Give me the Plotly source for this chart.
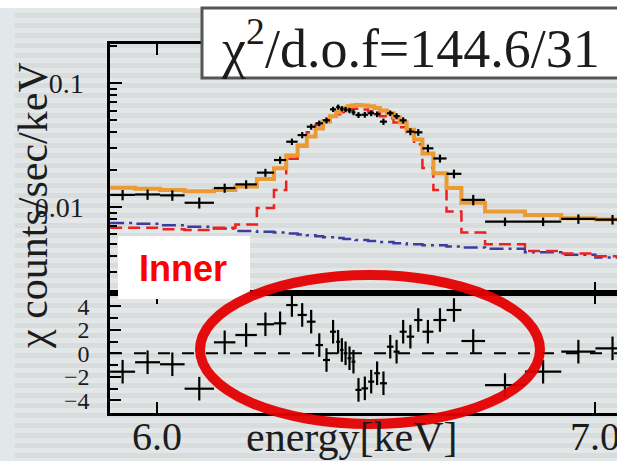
import plotly.graph_objects as go

# ---------------- data ----------------
bin_edges = [5.893, 5.950, 6.007, 6.063, 6.130, 6.179, 6.228, 6.267, 6.295, 6.321,
             6.342, 6.362, 6.379, 6.395, 6.409, 6.418, 6.426, 6.435, 6.444, 6.453,
             6.467, 6.482, 6.496, 6.509, 6.525, 6.540, 6.554, 6.570, 6.587, 6.606,
             6.631, 6.661, 6.695, 6.749, 6.840, 6.923, 7.001, 7.079]

data_rate = [0.0125, 0.0126, 0.0124, 0.0108, 0.0142, 0.0152, 0.0189, 0.0239, 0.0336, 0.0380,
             0.0444, 0.0473, 0.0500, 0.0613, 0.0640, 0.0620, 0.0610, 0.0600, 0.0580, 0.0552,
             0.0555, 0.0570, 0.0560, 0.0488, 0.0570, 0.0540, 0.0500, 0.0405, 0.0400, 0.0297,
             0.0246, 0.0185, 0.0114, 0.0076, 0.0076, 0.0080, 0.0079]

data_err = [0.0012, 0.0012, 0.0012, 0.0011, 0.0012, 0.0012, 0.0014, 0.0016, 0.0020, 0.0022,
            0.0024, 0.0025, 0.0028, 0.0030, 0.0030, 0.0030, 0.0030, 0.0030, 0.0030, 0.0030,
            0.0030, 0.0030, 0.0030, 0.0029, 0.0030, 0.0030, 0.0029, 0.0026, 0.0025, 0.0021,
            0.0018, 0.0015, 0.0011, 0.0006, 0.0006, 0.0007, 0.0007]

model_total = [0.0143, 0.0140, 0.0137, 0.0134, 0.0137, 0.0146, 0.0168, 0.0205, 0.0260, 0.0310,
               0.0370, 0.0430, 0.0490, 0.0540, 0.0580, 0.0610, 0.0630, 0.0650, 0.0660, 0.0665,
               0.0660, 0.0650, 0.0630, 0.0600, 0.0570, 0.0530, 0.0480, 0.0420, 0.0350, 0.0270,
               0.0187, 0.0142, 0.0108, 0.0092, 0.0086, 0.0081, 0.0079]

model_line = [0.0068, 0.0068, 0.0066, 0.0065, 0.0068, 0.0072, 0.0098, 0.0137, 0.0245, 0.0316,
              0.0400, 0.0460, 0.0500, 0.0540, 0.0560, 0.0580, 0.0600, 0.0610, 0.0620, 0.0620,
              0.0610, 0.0590, 0.0570, 0.0540, 0.0520, 0.0480, 0.0440, 0.0400, 0.0320, 0.0206,
              0.0137, 0.0092, 0.0062, 0.0050, 0.0044, 0.0042, 0.0040]

model_cont = [0.0074, 0.0073, 0.0071, 0.0069, 0.0067, 0.0064, 0.0063, 0.0062, 0.0061, 0.0060,
              0.0059, 0.0058, 0.0057, 0.0057, 0.0056, 0.0056, 0.0055, 0.0055, 0.0055, 0.0054,
              0.0054, 0.0053, 0.0053, 0.0052, 0.0052, 0.0051, 0.0051, 0.0050, 0.0050, 0.0049,
              0.0049, 0.0048, 0.0047, 0.0046, 0.0043, 0.0041, 0.0039]

residual = [-1.56, -0.76, -0.93, -3.00, 0.93, 1.55, 2.46, 2.54, 4.09, 3.25,
            2.68, 0.70, -0.57, 1.83, 0.98, 0.28, 0.00, -0.42, -0.71, -3.10,
            -2.97, -2.40, -1.69, -2.54, 0.56, 0.14, 1.83, 1.41, 2.82, 1.83,
            2.82, 3.67, 1.04, -2.69, -1.56, 0.14, 0.42]

x_tick_vals = [6.0, 7.0]
x_tick_text = ["6.0", "7.0"]
y_tick_vals = [0.01, 0.1]
y_tick_text = ["0.01", "0.1"]
y_minor_vals = [0.003, 0.004, 0.005, 0.006, 0.007, 0.008, 0.009,
                0.02, 0.03, 0.04, 0.05, 0.06, 0.07, 0.08, 0.09, 0.2]
r_tick_vals = [-4, -2, 0, 2, 4]
r_tick_text = ["\u22124", "\u22122", "0", "2", "4"]
r_minor_vals = [-5, -3, -1, 1, 3, 5]

title_text = "\u03c7<sup>2</sup>/d.o.f=144.6/31"
ylabel_text = "\u03c7 counts/sec/keV"
xlabel_text = "energy[keV]"
tag_text = "Inner"

# ---------------- geometry helpers ----------------
W, H = 617, 461
L, R, T, B = 110, 0, 44, 48
PW, PH = W - L - R, H - T - B


def px_x(p):
    return (p - L) / PW


def px_y(p):
    return (H - B - p) / PH


split = px_y(293)

centers = [(a + b) / 2 for a, b in zip(bin_edges[:-1], bin_edges[1:])]
half_w = [(b - a) / 2 for a, b in zip(bin_edges[:-1], bin_edges[1:])]

SERIF = "Liberation Serif"
INK = "#1c1c1c"

fig = go.Figure()

# model step curves (upper panel)
fig.add_trace(go.Scatter(x=bin_edges, y=model_cont + model_cont[-1:], mode="lines",
                         line=dict(shape="hv", color="#3c3ca0", width=2.5, dash="14px,5px,3px,5px"),
                         xaxis="x2", yaxis="y2", hoverinfo="skip"))
fig.add_trace(go.Scatter(x=bin_edges, y=model_line + model_line[-1:], mode="lines",
                         line=dict(shape="hv", color="#ee2020", width=2.5, dash="12px,6px"),
                         xaxis="x2", yaxis="y2", hoverinfo="skip"))
fig.add_trace(go.Scatter(x=bin_edges, y=model_total + model_total[-1:], mode="lines",
                         line=dict(shape="hv", color="#ec9a34", width=4),
                         xaxis="x2", yaxis="y2", hoverinfo="skip"))
# data crosses
fig.add_trace(go.Scatter(x=centers, y=data_rate, mode="markers",
                         marker=dict(size=1, color="black"),
                         error_x=dict(type="data", array=half_w, color="black", thickness=2.2, width=0),
                         error_y=dict(type="data", array=data_err, color="black", thickness=2.2, width=0),
                         xaxis="x2", yaxis="y2"))
# residuals
fig.add_trace(go.Scatter(x=centers, y=residual, mode="markers",
                         marker=dict(size=1, color="black"),
                         error_x=dict(type="data", array=half_w, color="black", thickness=2.2, width=0),
                         error_y=dict(type="constant", value=1, color="black", thickness=2.2, width=0),
                         xaxis="x", yaxis="y"))

axis_common = dict(showline=True, linecolor="black", linewidth=2.5, ticks="inside",
                   tickcolor="black", tickwidth=2, showgrid=False, zeroline=False,
                   automargin=False)

shapes = []
# background: light stripes, left strip, top white band
for p in range(8, 461, 10):
    shapes.append(dict(type="rect", xref="paper", yref="paper", layer="below",
                       x0=px_x(15), x1=px_x(617), y0=px_y(p), y1=px_y(p + 5),
                       fillcolor="#e4e7e7", line=dict(width=0)))
shapes.append(dict(type="rect", xref="paper", yref="paper", layer="below",
                   x0=px_x(0), x1=px_x(15), y0=px_y(461), y1=px_y(0),
                   fillcolor="#e2e8ea", line=dict(width=0)))
shapes.append(dict(type="rect", xref="paper", yref="paper", layer="below",
                   x0=px_x(0), x1=px_x(617), y0=px_y(8), y1=px_y(0),
                   fillcolor="white", line=dict(width=0)))
# zero line of the residual panel
shapes.append(dict(type="line", xref="x domain", yref="y", x0=0, x1=1, y0=0, y1=0,
                   line=dict(color="black", width=2, dash="12px,12px")))
# title box
shapes.append(dict(type="rect", xref="paper", yref="paper", layer="above",
                   x0=px_x(202), x1=px_x(650), y0=px_y(78), y1=px_y(8),
                   fillcolor="white", line=dict(color="#555555", width=3)))
# Inner box
shapes.append(dict(type="rect", xref="paper", yref="paper", layer="above",
                   x0=px_x(118), x1=px_x(250), y0=px_y(299), y1=px_y(236),
                   fillcolor="white", line=dict(width=0)))
# red ellipse
shapes.append(dict(type="circle", xref="paper", yref="paper", layer="above",
                   x0=px_x(200), x1=px_x(540), y0=px_y(424), y1=px_y(275),
                   line=dict(color="rgba(228,0,0,0.95)", width=10)))

annotations = [
    dict(text=title_text, xref="paper", yref="paper", x=px_x(410), y=px_y(44),
         xanchor="center", yanchor="middle", showarrow=False,
         font=dict(family=SERIF, size=54, color=INK)),
    dict(text=tag_text, xref="paper", yref="paper", x=px_x(183), y=px_y(268),
         xanchor="center", yanchor="middle", showarrow=False,
         font=dict(family="Liberation Sans", size=36, color="#ff0000", weight="bold")),
    dict(text=ylabel_text, xref="paper", yref="paper", x=px_x(33), y=px_y(206),
         xanchor="center", yanchor="middle", showarrow=False, textangle=-90,
         font=dict(family=SERIF, size=42, color=INK)),
    dict(text=xlabel_text, xref="paper", yref="paper", x=px_x(351), y=px_y(437),
         xanchor="center", yanchor="middle", showarrow=False,
         font=dict(family=SERIF, size=42, color=INK)),
]
# x tick labels placed at the axis values
for v, t in zip(x_tick_vals, x_tick_text):
    annotations.append(dict(text=t, xref="x", yref="paper", x=v, y=px_y(437),
                            xanchor="center", yanchor="middle", showarrow=False,
                            font=dict(family=SERIF, size=40, color=INK)))

fig.update_layout(
    width=W, height=H, margin=dict(l=L, r=R, t=T, b=B),
    paper_bgcolor="#d8dcdc", plot_bgcolor="rgba(0,0,0,0)", showlegend=False,
    xaxis=dict(domain=[0, 1], range=[5.8927, 7.0502], anchor="y",
               tickvals=x_tick_vals, ticklen=11, mirror="allticks", showticklabels=False,
               **axis_common),
    xaxis2=dict(domain=[0, 1], range=[5.8927, 7.0502], anchor="y2", matches="x",
                tickvals=x_tick_vals, ticklen=11, mirror="allticks", showticklabels=False,
                **axis_common),
    yaxis=dict(domain=[0, split], range=[-5.06, 5.11], anchor="x",
               tickvals=r_tick_vals, ticktext=r_tick_text, ticklen=11,
               minor=dict(tickvals=r_minor_vals, ticklen=8, ticks="inside", tickcolor="black", tickwidth=2),
               tickfont=dict(family=SERIF, size=24, color=INK),
               ticklabelstandoff=13, **axis_common),
    yaxis2=dict(domain=[split, 1], type="log", range=[-2.695, -0.685], anchor="x2",
                tickvals=y_tick_vals, ticktext=y_tick_text, ticklen=12,
                minor=dict(tickvals=y_minor_vals, ticklen=7, ticks="inside", tickcolor="black", tickwidth=2),
                tickfont=dict(family=SERIF, size=28, color=INK),
                ticklabelstandoff=18, **axis_common),
    shapes=shapes, annotations=annotations,
)

fig.write_html("out.html")
